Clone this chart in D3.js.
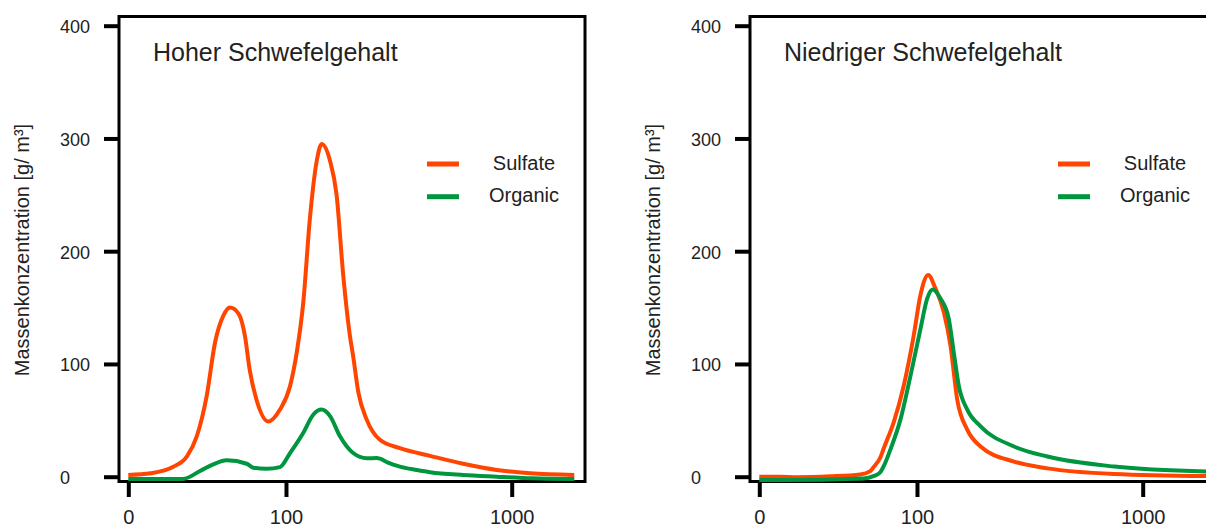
<!DOCTYPE html>
<html><head><meta charset="utf-8">
<script src="https://cdn.jsdelivr.net/npm/d3@7"></script>
<style>
html,body{margin:0;padding:0;background:#fff;}
svg{display:block;font-family:"Liberation Sans",Arial,sans-serif;}
</style></head>
<body>
<svg id="chart" width="1206" height="527"></svg>
<script>
// ---- data ----
const panelTitles = ["Hoher Schwefelgehalt", "Niedriger Schwefelgehalt"];
const seriesNames = ["Sulfate", "Organic"];
const seriesColors = ["#ff4500", "#00963f"];
const yTicks = [0, 100, 200, 300, 400];
const xTicks = [0, 100, 1000];
const yTitle = "Massenkonzentration [g/ m³]";

// High sulfur panel
const highSulfateSize  = [0, 7, 16, 22, 27, 32.5, 37.5, 43, 47.5, 54, 59, 63, 69, 80.5, 93, 105, 113.5, 122.5, 132, 142.5, 150.5, 165, 177, 190, 204, 211, 223, 243, 278, 340, 458, 631, 868, 1187, 1796];
const highSulfateValue = [1.5, 3, 9, 18, 36, 72, 119, 143, 150, 144.5, 125, 95, 68.5, 49, 59.5, 80.5, 110, 155, 229, 280, 295, 280, 250, 179, 125, 107, 74.5, 50.6, 32.7, 25.3, 18.5, 11.5, 6, 3, 1.5];
const highOrganicSize  = [0, 20, 28.7, 36.4, 45.2, 60.5, 66.2, 78.8, 93, 105, 122.5, 137, 150.5, 165, 183.6, 211, 243, 269, 278, 302, 340, 402, 458, 631, 868, 1221, 1796];
const highOrganicValue = [-2, -2, 5, 11, 14.5, 11.5, 8, 7, 8.5, 21, 39, 55, 59.5, 53.7, 35.8, 21, 16.4, 16.5, 16, 12.5, 9, 6, 4, 1.5, 0, -1.4, -2];

// Low sulfur panel
const lowSulfateSize  = [0, 6.5, 12.7, 28.3, 47, 54.5, 57.1, 62.7, 65.6, 74.8, 85, 96.1, 104.2, 114.1, 124.1, 136.4, 147, 158.2, 176.4, 203.3, 287, 401, 764, 1830];
const lowSulfateValue = [0, 0, -0.5, 0.3, 2, 5, 8.5, 17, 25, 48, 80.5, 125, 161, 179, 167, 146, 116, 68.5, 41.7, 26.8, 13.4, 7.4, 2.4, 0.5];
const lowOrganicSize  = [0, 6.5, 49.4, 57, 62.7, 66, 71.7, 81.6, 92.3, 104.2, 112.8, 120.3, 131.4, 144.2, 152.4, 161, 176.4, 203.3, 287, 401, 764, 1830];
const lowOrganicValue = [-3, -3, -1.5, 0.5, 4, 10, 24, 50.6, 89, 131, 158, 166, 158, 140, 110, 80.5, 59.5, 44.7, 26.8, 17.9, 9, 4.5];

const panels = [
  {title: panelTitles[0], series: [[highSulfateSize, highSulfateValue], [highOrganicSize, highOrganicValue]]},
  {title: panelTitles[1], series: [[lowSulfateSize, lowSulfateValue], [lowOrganicSize, lowOrganicValue]]}
];

// ---- drawing ----
const svg = d3.select("#chart");
const panelOffset = 631;
const y = d3.scaleLinear().domain([0, 400]).range([476.7, 25.7]);

panels.forEach((p, i) => {
  const dx = i * panelOffset;
  const x = d3.scaleSymlog().constant(31).domain([0, 1000]).range([128.3 + dx, 511.7 + dx]);
  const g = svg.append("g");

  // y axis
  const ya = g.append("g").attr("transform", `translate(${118 + dx},0)`)
    .call(d3.axisLeft(y).tickValues(yTicks).tickSize(14).tickFormat(d3.format("d")));
  ya.select(".domain").remove();
  ya.selectAll(".tick line").attr("stroke", "#000").attr("stroke-width", 4);
  ya.selectAll(".tick text").attr("x", -58).attr("dy", "0.39em")
    .attr("text-anchor", "start").attr("fill", "#222")
    .style("font-size", "18px").style("font-family", "Liberation Sans, Arial, sans-serif");

  // x axis
  const xa = g.append("g").attr("transform", `translate(0,482)`)
    .call(d3.axisBottom(x).tickValues(xTicks).tickSize(15).tickFormat(d3.format("d")));
  xa.select(".domain").remove();
  xa.selectAll(".tick line").attr("stroke", "#000").attr("stroke-width", 4);
  xa.selectAll(".tick text").attr("y", 27.5).attr("fill", "#222")
    .style("font-size", "20px").style("font-family", "Liberation Sans, Arial, sans-serif");

  // frame
  g.append("rect").attr("x", 119 + dx).attr("y", 16.5).attr("width", 466).attr("height", 465)
    .attr("fill", "none").attr("stroke", "#000").attr("stroke-width", 3);

  // y title
  g.append("text").attr("transform", `translate(${28.5 + dx},250) rotate(-90)`)
    .attr("text-anchor", "middle").attr("fill", "#222").style("font-size", "20px")
    .text(yTitle);

  // panel title
  g.append("text").attr("x", 153 + dx).attr("y", 61).attr("fill", "#222")
    .style("font-size", "25px").text(p.title);

  // lines
  const line = d3.line().x(d => x(d[0])).y(d => y(d[1])).curve(d3.curveMonotoneX);
  p.series.forEach((s, k) => {
    const pts = s[0].map((sz, j) => [sz, s[1][j]]);
    g.append("path").datum(pts).attr("d", line).attr("fill", "none")
      .attr("stroke", seriesColors[k]).attr("stroke-width", 4)
      .attr("stroke-linejoin", "round").attr("stroke-linecap", "butt");
  });

  // legend
  seriesNames.forEach((name, k) => {
    const ly = 164 + k * 32.7;
    g.append("line").attr("x1", 427 + dx).attr("x2", 459 + dx).attr("y1", ly).attr("y2", ly)
      .attr("stroke", seriesColors[k]).attr("stroke-width", 5);
    g.append("text").attr("x", 524 + dx).attr("y", ly + 5.5).attr("text-anchor", "middle")
      .attr("fill", "#222").style("font-size", "20px").text(name);
  });
});
</script>
</body></html>
